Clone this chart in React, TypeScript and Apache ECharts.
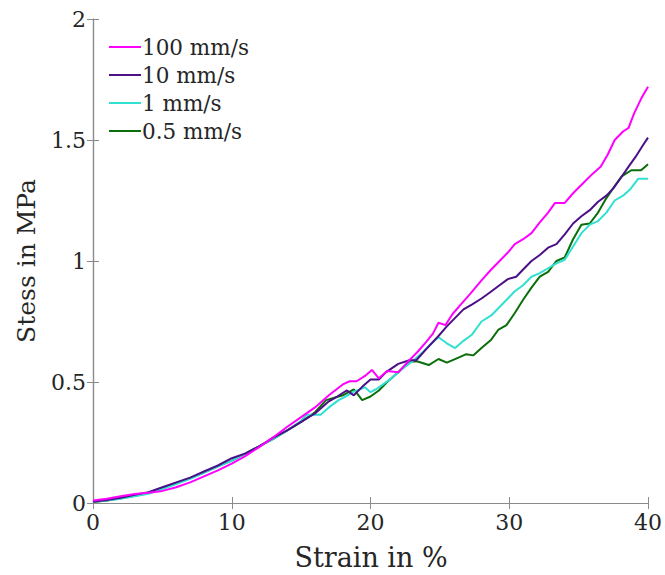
import React, { useEffect, useRef } from "react";
import * as echarts from "echarts";

const seriesNames = ["100 mm/s", "10 mm/s", "1 mm/s", "0.5 mm/s"];
const seriesColors = ["#ff00ff", "#4b0f87", "#30e0d0", "#0a6e0a"];
const xAxisName = "Strain in %";
const yAxisName = "Stess in MPa";

const strain100 = [0, 1, 2, 3, 4, 5, 6, 7, 8, 9, 10, 11, 12, 13, 14, 15, 16, 17, 18, 18.5, 19, 19.6, 20.1, 20.6, 21.2, 22, 22.8, 23.4, 24, 24.5, 24.9, 25.4, 25.9, 26.5, 27.2, 28, 28.7, 29.3, 29.9, 30.4, 31, 31.6, 32.2, 32.8, 33.3, 34, 34.6, 35.3, 36, 36.6, 37.1, 37.6, 38.2, 38.6, 39, 39.5, 40];
const stress100 = [0.01, 0.018, 0.028, 0.037, 0.042, 0.05, 0.065, 0.085, 0.11, 0.135, 0.163, 0.195, 0.232, 0.272, 0.315, 0.355, 0.395, 0.445, 0.49, 0.503, 0.503, 0.525, 0.55, 0.515, 0.545, 0.54, 0.59, 0.625, 0.665, 0.7, 0.745, 0.735, 0.78, 0.82, 0.865, 0.92, 0.965, 1.0, 1.035, 1.07, 1.09, 1.115, 1.16, 1.2, 1.24, 1.24, 1.28, 1.32, 1.36, 1.39, 1.44, 1.5, 1.535, 1.55, 1.61, 1.67, 1.72];

const strain10 = [0, 1, 2, 3, 4, 5, 6, 7, 8, 9, 10, 11, 12, 13, 14, 15, 16, 17, 17.6, 18.3, 18.8, 19.4, 20, 20.6, 21.1, 22, 22.8, 23.3, 24, 24.9, 25.5, 26.1, 26.7, 27.3, 28, 28.6, 29.3, 29.9, 30.5, 31, 31.6, 32.2, 32.8, 33.4, 34, 34.6, 35.2, 35.8, 36.4, 37, 37.5, 38, 38.6, 39.1, 39.6, 40];
const stress10 = [0.005, 0.012, 0.022, 0.034, 0.045, 0.065, 0.085, 0.105, 0.13, 0.155, 0.185, 0.205, 0.235, 0.27, 0.3, 0.335, 0.37, 0.42, 0.44, 0.465, 0.445, 0.48, 0.51, 0.51, 0.54, 0.575, 0.59, 0.59, 0.635, 0.69, 0.73, 0.765, 0.8, 0.82, 0.845, 0.87, 0.9, 0.925, 0.935, 0.965, 1.0, 1.025, 1.055, 1.07, 1.11, 1.155, 1.185, 1.21, 1.245, 1.27, 1.3, 1.34, 1.39, 1.43, 1.475, 1.51];

const strain1 = [0, 1, 2, 3, 4, 5, 6, 7, 8, 9, 10, 11, 12, 13, 14, 15, 15.4, 16.4, 17, 17.7, 18.2, 18.8, 19.6, 20, 20.4, 20.9, 21.5, 22.2, 23, 23.8, 24.4, 24.9, 25.5, 26.1, 26.7, 27.3, 28, 28.7, 29.3, 29.9, 30.4, 31, 31.6, 32.2, 32.8, 33.4, 34, 34.6, 35.2, 35.8, 36.4, 37, 37.6, 38.2, 38.7, 39.3, 40];
const stress1 = [0.004, 0.01, 0.018, 0.028, 0.038, 0.058, 0.078, 0.1, 0.125, 0.15, 0.175, 0.205, 0.235, 0.265, 0.3, 0.34, 0.365, 0.365, 0.395, 0.425, 0.44, 0.46, 0.478, 0.458, 0.47, 0.49, 0.515, 0.55, 0.585, 0.625, 0.66, 0.685, 0.66, 0.64, 0.67, 0.695, 0.75, 0.775, 0.81, 0.845, 0.875, 0.9, 0.935, 0.95, 0.97, 0.99, 1.005, 1.06, 1.115, 1.15, 1.165, 1.2, 1.25, 1.27, 1.295, 1.34, 1.34];

const strain05 = [0, 1, 2, 3, 4, 5, 6, 7, 8, 9, 10, 11, 12, 13, 14, 15, 16, 16.8, 17.4, 18, 18.8, 19.4, 20, 20.6, 21.2, 22, 22.8, 23.4, 24.2, 24.9, 25.5, 26.3, 26.9, 27.4, 28, 28.7, 29.2, 29.8, 30.4, 31, 31.6, 32.2, 32.8, 33.4, 34, 34.6, 35.2, 35.8, 36.4, 37, 37.6, 38.1, 38.8, 39.5, 40];
const stress05 = [0.004, 0.01, 0.02, 0.03, 0.042, 0.062, 0.082, 0.102, 0.127, 0.152, 0.175, 0.205, 0.235, 0.265, 0.3, 0.335, 0.375, 0.425, 0.435, 0.445, 0.47, 0.425, 0.44, 0.465, 0.5, 0.54, 0.585, 0.585, 0.57, 0.595, 0.58, 0.6, 0.615, 0.61, 0.64, 0.675, 0.715, 0.735, 0.785, 0.84, 0.89, 0.935, 0.955, 1.0, 1.015, 1.09, 1.15, 1.155, 1.2, 1.26, 1.31, 1.35, 1.375, 1.375, 1.4];

const xTicks = { min: 0, max: 40, interval: 10 };
const yTicks = { min: 0, max: 2, interval: 0.5 };

const zip = (xs: number[], ys: number[]) => xs.map((x, i) => [x, ys[i]]);

const FONT = "DejaVu Serif";
const AXIS_COLOR = "#8a8a8a";
const TEXT_COLOR = "#262626";

export default function App() {
  const ref = useRef<HTMLDivElement>(null);
  useEffect(() => {
    if (!ref.current) return;
    const chart = echarts.init(ref.current, undefined, { renderer: "svg" });
    const allX = [strain100, strain10, strain1, strain05];
    const allY = [stress100, stress10, stress1, stress05];
    const axisLine = { show: true, lineStyle: { color: AXIS_COLOR, width: 1.2 } };
    const tick = { show: true, inside: true, length: 6, lineStyle: { color: AXIS_COLOR } };
    chart.setOption({
      animation: false,
      backgroundColor: "#ffffff",
      textStyle: { fontFamily: FONT },
      grid: { left: 93, right: 15, top: 19, bottom: 72, containLabel: false },
      legend: {
        show: true,
        orient: "vertical",
        left: 104,
        top: 31,
        icon: "rect",
        itemWidth: 32,
        itemHeight: 2,
        itemGap: 6,
        data: seriesNames,
        textStyle: { fontFamily: FONT, fontSize: 21.5, color: TEXT_COLOR, padding: [0, 0, 0, -4] },
      },
      graphic: [
        {
          type: "text",
          x: 371,
          y: 557,
          style: {
            text: xAxisName,
            fontFamily: FONT,
            fontSize: 27,
            fill: TEXT_COLOR,
            textAlign: "center",
            textVerticalAlign: "middle",
          },
        },
        {
          type: "text",
          x: 26,
          y: 261,
          rotation: Math.PI / 2,
          style: {
            text: yAxisName,
            fontFamily: FONT,
            fontSize: 25,
            fill: TEXT_COLOR,
            textAlign: "center",
            textVerticalAlign: "middle",
          },
        },
      ],
      xAxis: [
        {
          type: "value",
          ...xTicks,
          position: "bottom",
          axisLine,
          axisTick: tick,
          splitLine: { show: false },
          axisLabel: { fontFamily: FONT, fontSize: 22, color: TEXT_COLOR, margin: 8 },
        },
        {
          type: "value",
          ...xTicks,
          position: "top",
          axisLine,
          axisTick: tick,
          splitLine: { show: false },
          axisLabel: { show: false },
        },
      ],
      yAxis: [
        {
          type: "value",
          ...yTicks,
          position: "left",
          axisLine,
          axisTick: tick,
          splitLine: { show: false },
          axisLabel: { fontFamily: FONT, fontSize: 22, color: TEXT_COLOR, margin: 7 },
        },
        {
          type: "value",
          ...yTicks,
          position: "right",
          axisLine,
          axisTick: tick,
          splitLine: { show: false },
          axisLabel: { show: false },
        },
      ],
      series: seriesNames.map((name, i) => ({
        name,
        type: "line",
        xAxisIndex: 0,
        yAxisIndex: 0,
        data: zip(allX[i], allY[i]),
        showSymbol: false,
        symbol: "none",
        color: seriesColors[i],
        lineStyle: { width: 2, color: seriesColors[i] },
        z: 10 - i,
      })),
    });
    return () => chart.dispose();
  }, []);
  return <div ref={ref} style={{ width: 665, height: 575, position: "absolute", left: 0, top: 0 }} />;
}
